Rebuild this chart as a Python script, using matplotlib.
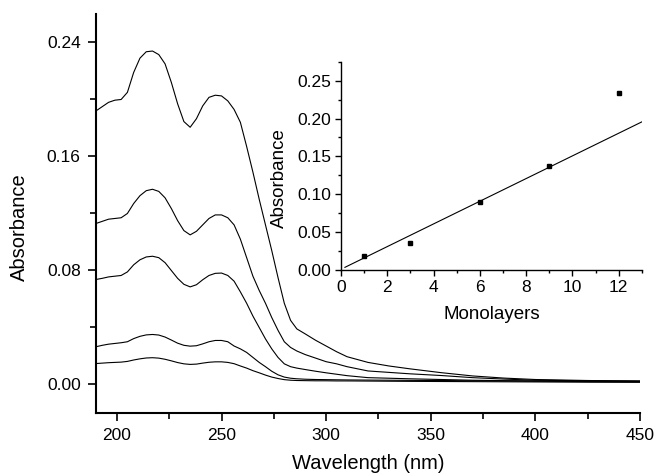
import matplotlib.pyplot as plt
from matplotlib.ticker import MultipleLocator, FormatStrFormatter

plt.rcParams["font.family"] = ["Liberation Sans", "DejaVu Sans"]

# comprimentos de onda (nm) comuns a todos os espectros
comprimento_onda = [190, 193, 196, 199, 202, 205, 208, 211, 214, 217,
                    220, 223, 226, 229, 232, 235, 238, 241, 244, 247,
                    250, 253, 256, 259, 262, 265, 268, 271, 274, 277,
                    280, 283, 286, 290, 295, 300, 305, 310, 320, 330,
                    340, 355, 370, 385, 400, 425, 450]

# absorbancia de cada filme (do mais espesso ao mais fino)
abs_12 = [0.192, 0.195, 0.198, 0.1995, 0.200, 0.205, 0.219, 0.229, 0.2335, 0.234,
          0.2315, 0.225, 0.212, 0.197, 0.1845, 0.1805, 0.1865, 0.1955, 0.2015, 0.203,
          0.2025, 0.199, 0.193, 0.184, 0.167, 0.149, 0.130, 0.112, 0.094, 0.075,
          0.057, 0.045, 0.039, 0.0355, 0.031, 0.027, 0.023, 0.0195, 0.0155, 0.013,
          0.011, 0.0083, 0.006, 0.0045, 0.0035, 0.0028, 0.0024]
abs_9 = [0.113, 0.1145, 0.116, 0.1165, 0.117, 0.120, 0.127, 0.1325, 0.136, 0.137,
         0.1355, 0.131, 0.1235, 0.115, 0.108, 0.105, 0.1075, 0.112, 0.1165, 0.119,
         0.119, 0.117, 0.112, 0.102, 0.089, 0.076, 0.066, 0.057, 0.047, 0.038,
         0.030, 0.026, 0.0235, 0.021, 0.0185, 0.016, 0.0145, 0.0125, 0.0095, 0.0085,
         0.0075, 0.0063, 0.0048, 0.0038, 0.003, 0.0026, 0.0024]
abs_6 = [0.0737, 0.0745, 0.0755, 0.076, 0.0765, 0.079, 0.084, 0.0875, 0.0895, 0.090,
         0.089, 0.0855, 0.080, 0.0745, 0.0703, 0.0685, 0.070, 0.0735, 0.0765, 0.078,
         0.0782, 0.0765, 0.0725, 0.065, 0.057, 0.048, 0.040, 0.032, 0.025, 0.019,
         0.0145, 0.0125, 0.0115, 0.0105, 0.0093, 0.0082, 0.0072, 0.0062, 0.0048, 0.0044,
         0.004, 0.0035, 0.003, 0.0027, 0.0025, 0.0023, 0.0022]
abs_3 = [0.0265, 0.0275, 0.0283, 0.0288, 0.0293, 0.030, 0.0322, 0.0338, 0.0348, 0.0351,
         0.0347, 0.0333, 0.0312, 0.029, 0.0275, 0.0269, 0.0272, 0.0285, 0.030, 0.0309,
         0.0309, 0.030, 0.027, 0.025, 0.0225, 0.019, 0.0155, 0.0125, 0.0093, 0.0068,
         0.0052, 0.0044, 0.004, 0.0037, 0.0035, 0.0034, 0.0033, 0.0032, 0.0031, 0.003,
         0.0029, 0.0028, 0.0026, 0.0025, 0.0023, 0.0021, 0.002]
abs_1 = [0.0147, 0.015, 0.0153, 0.0155, 0.0157, 0.0162, 0.0172, 0.018, 0.0186, 0.0188,
         0.0185, 0.0177, 0.0166, 0.0154, 0.0145, 0.0141, 0.0143, 0.015, 0.0156, 0.0159,
         0.0159, 0.0155, 0.0146, 0.013, 0.0115, 0.0097, 0.0082, 0.0066, 0.0052, 0.0042,
         0.0034, 0.003, 0.0028, 0.0027, 0.0026, 0.0026, 0.0025, 0.0025, 0.0024, 0.0023,
         0.0022, 0.0021, 0.002, 0.0019, 0.0018, 0.0016, 0.0015]

espectros = [abs_12, abs_9, abs_6, abs_3, abs_1]

# inset: absorbancia no pico (217 nm) vs numero de monocamadas
monocamadas = [1, 3, 6, 9, 12]
abs_pico = [0.019, 0.035, 0.090, 0.137, 0.234]

# reta ajustada (extremos)
reta_x = [0.17, 13.0]
reta_y = [0.0035, 0.1956]

fig = plt.figure(figsize=(6.55, 4.74), dpi=100)
ax = fig.add_axes([0.1466, 0.1287, 0.8304, 0.8418])

for espectro in espectros:
    ax.plot(comprimento_onda, espectro, color="black", linewidth=0.8)

ax.set_xlim(190, 450)
ax.set_ylim(-0.02, 0.26)
ax.xaxis.set_major_locator(MultipleLocator(50))
ax.xaxis.set_minor_locator(MultipleLocator(25))
ax.yaxis.set_major_locator(MultipleLocator(0.08))
ax.yaxis.set_minor_locator(MultipleLocator(0.04))
ax.yaxis.set_major_formatter(FormatStrFormatter("%.2f"))
ax.spines["top"].set_visible(False)
ax.spines["right"].set_visible(False)
for lado in ["left", "bottom"]:
    ax.spines[lado].set_linewidth(1.5)
ax.tick_params(which="major", direction="out", length=6, width=1.2,
               labelsize=12.5, pad=5)
ax.tick_params(which="minor", direction="out", length=4, width=1.2)
ax.set_xlabel("Wavelength (nm)", fontsize=14.5, labelpad=8)
ax.set_ylabel("Absorbance", fontsize=14.5)
ax.yaxis.set_label_coords(-0.123, 0.465)

ins = fig.add_axes([0.5206, 0.4304, 0.4594, 0.4394])
ins.patch.set_alpha(0)
ins.plot(reta_x, reta_y, color="black", linewidth=0.8)
ins.plot(monocamadas, abs_pico, linestyle="none", marker="s",
         markersize=3.5, color="black")
ins.set_xlim(0, 13)
ins.set_ylim(0, 0.275)
ins.xaxis.set_major_locator(MultipleLocator(2))
ins.xaxis.set_minor_locator(MultipleLocator(1))
ins.yaxis.set_major_locator(MultipleLocator(0.05))
ins.yaxis.set_minor_locator(MultipleLocator(0.025))
ins.yaxis.set_major_formatter(FormatStrFormatter("%.2f"))
ins.spines["top"].set_visible(False)
ins.spines["right"].set_visible(False)
for lado in ["left", "bottom"]:
    ins.spines[lado].set_linewidth(1.0)
ins.tick_params(which="major", direction="out", length=4, width=1.0,
                labelsize=12.5, pad=3)
ins.tick_params(which="minor", direction="out", length=2.5, width=1.0)
ins.set_xlabel("Monolayers", fontsize=13.5, labelpad=8)
ins.set_ylabel("Absorbance", fontsize=13.5)
ins.yaxis.set_label_coords(-0.176, 0.44)

fig.savefig("out.png", dpi=100)
